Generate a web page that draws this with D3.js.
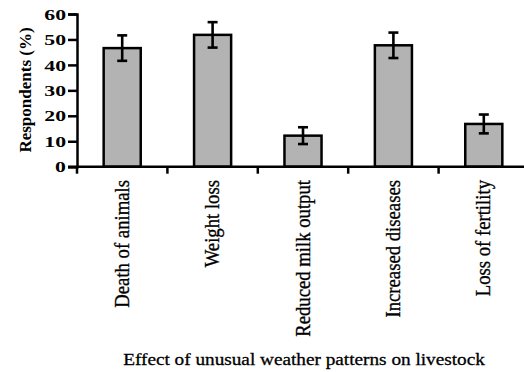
<!DOCTYPE html>
<html>
<head>
<meta charset="utf-8">
<script src="https://cdnjs.cloudflare.com/ajax/libs/d3/7.8.5/d3.min.js"></script>
<style>
  body { margin: 0; background: #fff; }
  text { font-family: "Liberation Serif", "Times New Roman", serif; fill: #000; }
</style>
</head>
<body>
<div id="chart"></div>
<script>
// data
var categories = ["Death of animals", "Weight loss", "Reduced milk output", "Increased diseases", "Loss of fertility"];
var values = [46.6, 51.8, 12.2, 47.7, 16.8];
var errors = [5.0, 5.0, 3.3, 5.0, 3.7];
var yTicks = [0, 10, 20, 30, 40, 50, 60];

var width = 524,
    height = 372;

var svg = d3.select("#chart")
    .append("svg")
    .attr("width", width)
    .attr("height", height);

// scales
var x = d3.scaleBand()
    .domain(categories)
    .range([77, 529])
    .paddingInner(0.59)
    .paddingOuter(0.295);

var y = d3.scaleLinear()
    .domain([0, 60])
    .range([166.7, 14]);

// bars
svg.selectAll("rect.bar")
    .data(values)
    .enter()
    .append("rect")
    .attr("class", "bar")
    .attr("x", function(d, i) { return x(categories[i]); })
    .attr("y", function(d) { return y(d); })
    .attr("width", x.bandwidth())
    .attr("height", function(d) { return y(0) - y(d); })
    .style("fill", "#b3b3b3")
    .style("stroke", "#000")
    .style("stroke-width", 2.5);

// error bars
var capHalf = 5;
var err = svg.selectAll("g.err")
    .data(values)
    .enter()
    .append("g")
    .attr("class", "err")
    .style("stroke", "#000")
    .style("stroke-width", 2.6);

err.append("line")
    .attr("x1", function(d, i) { return x(categories[i]) + x.bandwidth() / 2; })
    .attr("x2", function(d, i) { return x(categories[i]) + x.bandwidth() / 2; })
    .attr("y1", function(d, i) { return y(d + errors[i]); })
    .attr("y2", function(d, i) { return y(d - errors[i]); });

err.append("line")
    .attr("x1", function(d, i) { return x(categories[i]) + x.bandwidth() / 2 - capHalf; })
    .attr("x2", function(d, i) { return x(categories[i]) + x.bandwidth() / 2 + capHalf; })
    .attr("y1", function(d, i) { return y(d + errors[i]); })
    .attr("y2", function(d, i) { return y(d + errors[i]); });

err.append("line")
    .attr("x1", function(d, i) { return x(categories[i]) + x.bandwidth() / 2 - capHalf; })
    .attr("x2", function(d, i) { return x(categories[i]) + x.bandwidth() / 2 + capHalf; })
    .attr("y1", function(d, i) { return y(d - errors[i]); })
    .attr("y2", function(d, i) { return y(d - errors[i]); });

// y axis
var yAxis = svg.append("g")
    .attr("transform", "translate(77,0)")
    .call(d3.axisLeft(y).tickValues(yTicks).tickSize(9).tickPadding(2));

yAxis.selectAll("path, line")
    .style("stroke", "#000")
    .style("stroke-width", 2.5);

// digits in the figure are wide, stretch them a bit
yAxis.selectAll("text")
    .style("font-family", "Liberation Serif")
    .style("font-size", "15px")
    .style("font-weight", "bold")
    .attr("x", null)
    .attr("dy", "0.34em")
    .attr("transform", "translate(-11,0) scale(1.45,1)");

// x axis: ticks on the band boundaries, labels drawn separately
var boundaries = categories.map(function(c) { return x(c) - x.step() * x.paddingInner() / 2; });

var xAxis = svg.append("g")
    .attr("transform", "translate(0," + y(0) + ")");

xAxis.append("line")
    .attr("x1", 68)
    .attr("x2", width)
    .style("stroke", "#000")
    .style("stroke-width", 2.5);

xAxis.selectAll("line.tick")
    .data(boundaries)
    .enter()
    .append("line")
    .attr("class", "tick")
    .attr("x1", function(d) { return d; })
    .attr("x2", function(d) { return d; })
    .attr("y1", 0)
    .attr("y2", 7)
    .style("stroke", "#000")
    .style("stroke-width", 2.5);

// rotated category labels
svg.selectAll("text.cat")
    .data(categories)
    .enter()
    .append("text")
    .attr("class", "cat")
    .attr("transform", function(d) {
        return "translate(" + (x(d) + x.bandwidth() / 2 + 6.5) + ",180) scale(1.15,1) rotate(-90)";
    })
    .attr("text-anchor", "end")
    .style("font-size", "18.7px")
    .style("stroke", "#000")
    .style("stroke-width", 0.3)
    .text(function(d) { return d; });

// axis titles
svg.append("text")
    .attr("transform", "translate(30.5,90) rotate(-90)")
    .attr("text-anchor", "middle")
    .style("font-size", "17px")
    .style("font-weight", "bold")
    .text("Respondents (%)");

svg.append("text")
    .attr("transform", "translate(304,365) scale(1.1,1)")
    .attr("text-anchor", "middle")
    .style("font-size", "17.5px")
    .style("stroke", "#000")
    .style("stroke-width", 0.3)
    .text("Effect of unusual weather patterns on livestock");
</script>
</body>
</html>
